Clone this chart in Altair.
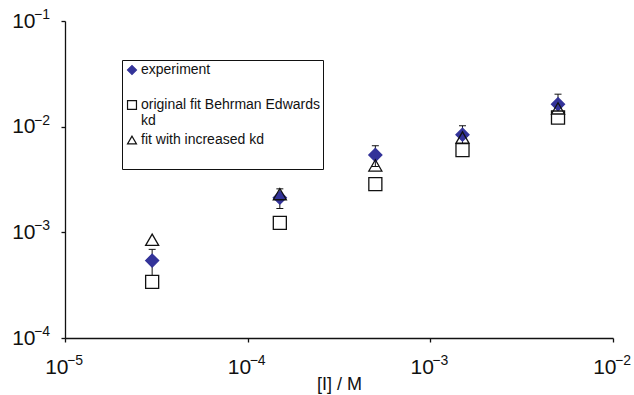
import altair as alt
import pandas as pd

FONT = "Liberation Sans"
INK = "#111111"
BLUE = "#333399"

# ---- data ----
conc = [3e-5, 1.5e-4, 5e-4, 1.5e-3, 5e-3]
experiment = [5.4e-4, 2.13e-3, 5.4e-3, 8.4e-3, 1.63e-2]
experiment_err = [1.5e-4, 4.5e-4, 1.2e-3, 1.8e-3, 4.0e-3]
original_fit = [3.4e-4, 1.23e-3, 2.86e-3, 6.0e-3, 1.22e-2]
increased_fit = [8.5e-4, 2.3e-3, 4.3e-3, 7.9e-3, 1.49e-2]
series_names = ["experiment", "original fit Behrman Edwards kd", "fit with increased kd"]
series_shapes = ["diamond", "square", "triangle-up"]

x_ticks = [1e-5, 1e-4, 1e-3, 1e-2]
x_exps = ["\u22125", "\u22124", "\u22123", "\u22122"]
y_ticks = [1e-4, 1e-3, 1e-2, 1e-1]
y_exps = ["\u22124", "\u22123", "\u22122", "\u22121"]

rows = []
for name, vals in zip(series_names, [experiment, original_fit, increased_fit]):
    for c, v in zip(conc, vals):
        rows.append({"conc": c, "value": v, "series": name})
pts = pd.DataFrame(rows)

errdf = pd.DataFrame({
    "conc": conc,
    "lo": [v - e for v, e in zip(experiment, experiment_err)],
    "hi": [v + e for v, e in zip(experiment, experiment_err)],
})

xs = alt.Scale(type="log", domain=[1e-5, 1e-2], nice=False)
ys = alt.Scale(type="log", domain=[1e-4, 1e-1], nice=False)

axis_common = dict(
    grid=False, domainColor=INK, domainWidth=1.3, tickColor=INK, tickWidth=1.3,
    tickSize=4, labelFont=FONT, labelColor=INK, labelFontSize=21,
    labelFlush=False, labelOverlap=False, labelBound=False, labelExpr="'10'",
)

x_axis = alt.Axis(values=x_ticks, title="[I] / M", titleFont=FONT, titleFontSize=18,
                  titleFontWeight="normal", titleColor=INK, titleY=51,
                  titleBaseline="alphabetic", labelAlign="right", labelOffset=3,
                  labelBaseline="alphabetic", labelPadding=31, **axis_common)
y_axis = alt.Axis(values=y_ticks, title=None, labelAlign="right",
                  labelBaseline="middle", labelPadding=26, **axis_common)

legend = alt.Legend(
    title=" ", titleOrient="bottom", titleFontSize=14, titlePadding=5,
    orient="none", legendX=57, legendY=39, strokeColor=INK, fillColor="white",
    padding=3, symbolSize=80, symbolStrokeWidth=1.2, labelFont=FONT,
    labelFontSize=14, labelColor=INK, labelLimit=400, labelOffset=2, rowPadding=5,
    labelExpr=("datum.label == 'original fit Behrman Edwards kd' ? ['original fit Behrman Edwards', 'kd'] : "
               "(datum.label == 'experiment' ? ['experiment', ''] : datum.label)"),
)

rule = alt.Chart(errdf).mark_rule(color=INK, strokeWidth=1).encode(
    x=alt.X("conc:Q", scale=xs, axis=x_axis),
    y=alt.Y("lo:Q", scale=ys, axis=y_axis),
    y2="hi:Q",
)
cap_hi = alt.Chart(errdf).mark_tick(orient="horizontal", size=7, thickness=1, color=INK, opacity=1).encode(
    x=alt.X("conc:Q", scale=xs, axis=x_axis),
    y=alt.Y("hi:Q", scale=ys, axis=y_axis),
)
cap_lo = alt.Chart(errdf).mark_tick(orient="horizontal", size=7, thickness=1, color=INK, opacity=1).encode(
    x=alt.X("conc:Q", scale=xs, axis=x_axis),
    y=alt.Y("lo:Q", scale=ys, axis=y_axis),
)

points = alt.Chart(pts).mark_point(size=170, strokeWidth=1.3, opacity=1).encode(
    x=alt.X("conc:Q", scale=xs, axis=x_axis),
    y=alt.Y("value:Q", scale=ys, axis=y_axis),
    shape=alt.Shape("series:N", scale=alt.Scale(domain=series_names, range=series_shapes), legend=legend),
    fill=alt.Fill("series:N", scale=alt.Scale(domain=series_names, range=[BLUE, "white", "transparent"]), legend=legend),
    stroke=alt.Stroke("series:N", scale=alt.Scale(domain=series_names, range=[BLUE, INK, INK]), legend=legend),
)

yexp = alt.Chart(pd.DataFrame({"t": y_ticks, "e": y_exps})).mark_text(
    align="left", baseline="middle", dy=-6, fontSize=14, font=FONT, color=INK
).encode(
    x=alt.value(-31),
    y=alt.Y("t:Q", scale=ys, axis=y_axis),
    text="e:N",
)
xexp = alt.Chart(pd.DataFrame({"t": x_ticks, "e": x_exps})).mark_text(
    align="left", baseline="alphabetic", dx=2, fontSize=14, font=FONT, color=INK
).encode(
    x=alt.X("t:Q", scale=xs, axis=x_axis),
    y=alt.value(344),
    text="e:N",
)

chart = alt.layer(rule, cap_hi, cap_lo, points, yexp, xexp).properties(
    width=548, height=317,
    padding={"left": 65, "top": 21, "right": 21, "bottom": 57},
    autosize=alt.AutoSizeParams(type="none"),
    background="white",
).configure_view(stroke=None)

chart.save("out.html", embed_options={"renderer": "svg", "actions": False})
